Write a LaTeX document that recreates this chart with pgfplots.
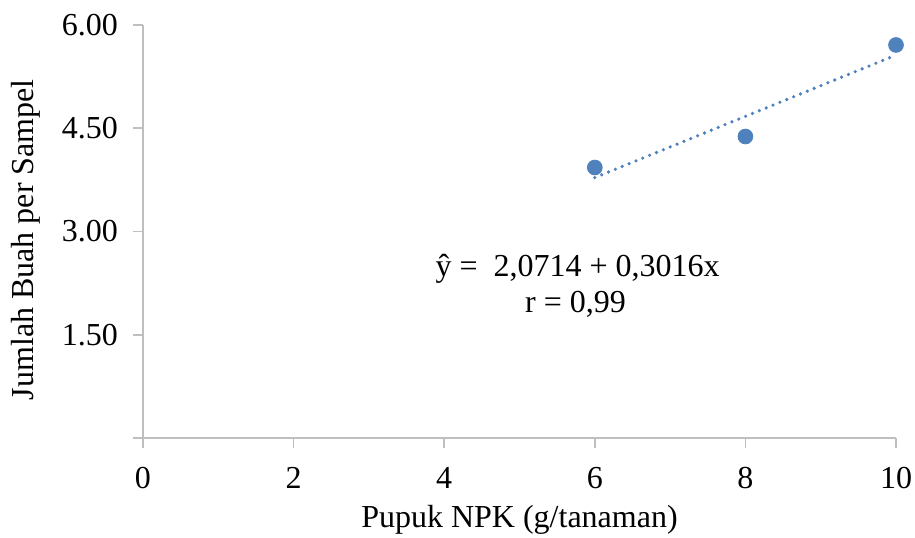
\documentclass[border=0pt]{standalone}
\usepackage{fontspec}
\setmainfont{Liberation Serif}
\usepackage{pgfplots}
\pgfplotsset{compat=1.18}
\definecolor{ptblue}{HTML}{4F81BD}
\definecolor{axgray}{HTML}{BFBFBF}

\begin{document}
\fontsize{16}{19}\selectfont
\begin{tikzpicture}
\begin{axis}[
    scale only axis,
    width=376.5pt,
    height=206.5pt,
    at={(0,0)},
    anchor=south west,
    xmin=0, xmax=10,
    ymin=0, ymax=6,
    axis lines=left,
    axis line style={axgray, line width=0.8pt, -},
    xtick={0,2,...,10},
    ytick={0,1.5,3,4.5,6},
    yticklabels={,1.50,3.00,4.50,6.00},
    tick align=outside,
    major tick length=5pt,
    tick style={axgray, line width=0.8pt},
    /pgf/number format/assume math mode=true,
    ticklabel style={font=\fontsize{16}{19}\selectfont},
    xticklabel style={yshift=-4pt},
    yticklabel style={xshift=-2pt},
    xlabel={Pupuk NPK (g/tanaman)},
    ylabel={Jumlah Buah per Sampel},
    label style={font=\fontsize{16}{19}\selectfont},
    xlabel style={at={(axis description cs:0.5,0)}, anchor=base, yshift=-44.5pt},
    ylabel style={at={(axis description cs:0,0.48)}, anchor=base, yshift=54.5pt},
    clip=false,
]
% trend line (least squares of the three points)
\addplot[ptblue, line width=1.8pt, line cap=round, dash pattern=on 0pt off 3.7pt]
    coordinates {(6,3.783) (9.93,5.532)};
% data
\addplot[only marks, mark=*, mark size=3.7pt, mark options={fill=ptblue, draw=ptblue}]
    coordinates {(6,3.93) (8,4.38) (10,5.71)};
\node[anchor=base west, inner sep=0pt, font=\fontsize{16}{19}\selectfont] at (axis cs:3.88,2.34) {ŷ =\ \ 2,0714 + 0,3016x};
\node[anchor=base west, inner sep=0pt, font=\fontsize{16}{19}\selectfont] at (axis cs:5.07,1.82) {r = 0,99};
\end{axis}
\pgfresetboundingbox
\path[use as bounding box] (-71.5pt,-49.5pt) rectangle (386pt,219pt);
\end{tikzpicture}
\end{document}
